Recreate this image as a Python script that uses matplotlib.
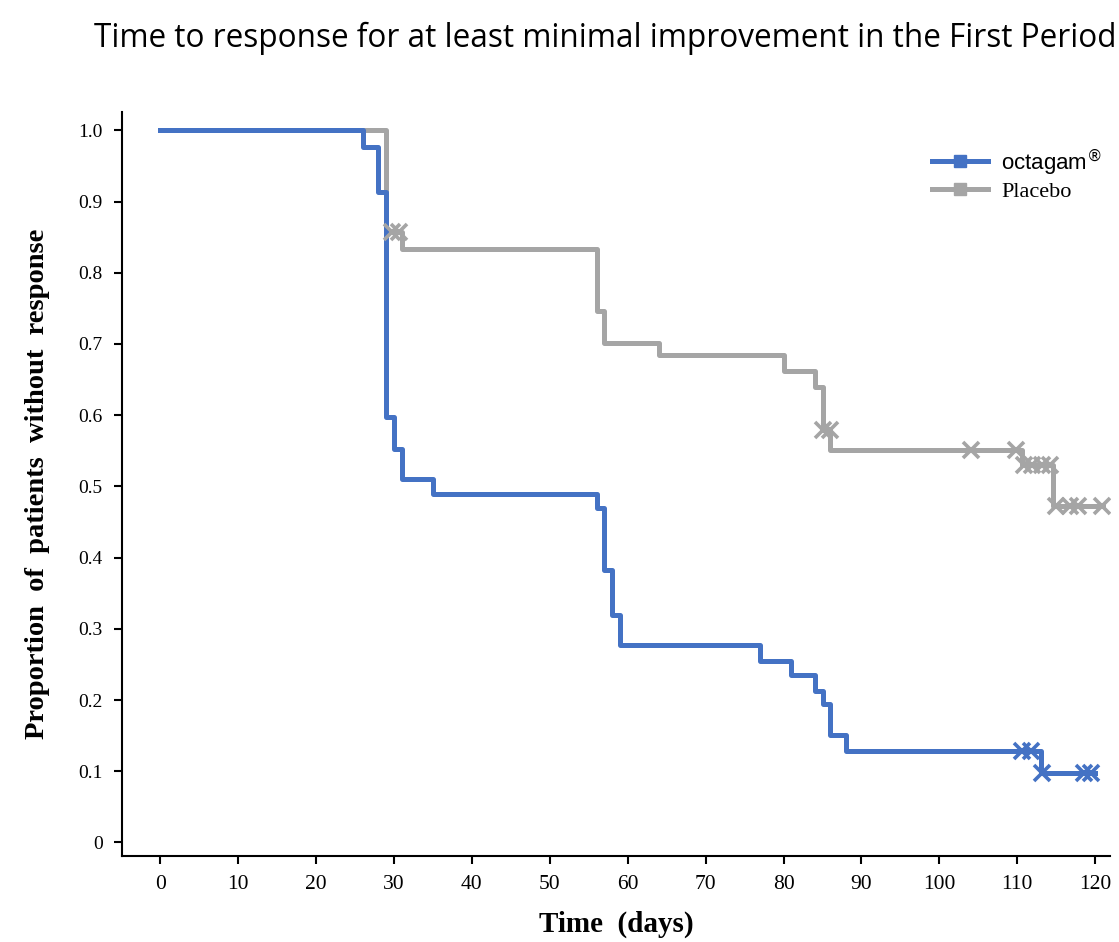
import matplotlib
matplotlib.use("Agg")
from matplotlib import pyplot as plt
from matplotlib.lines import Line2D

# octagam (Kaplan-Meier)
oct_temps = [0, 26, 28, 29, 30, 31, 35, 56, 57, 58, 59, 77, 81, 84, 85, 86, 88, 113]
oct_surv = [1.0, 0.976, 0.913, 0.598, 0.553, 0.510, 0.490, 0.470, 0.383, 0.320,
            0.277, 0.255, 0.235, 0.213, 0.194, 0.151, 0.129, 0.098]
oct_fin = 120
oct_censures = [110.6, 111.8, 113.2, 118.6, 119.5]

# placebo
pla_temps = [0, 29, 31, 56, 57, 64, 80, 84, 85, 86, 110.6, 114.6]
pla_surv = [1.0, 0.857, 0.833, 0.746, 0.702, 0.684, 0.662, 0.639, 0.579, 0.551, 0.530, 0.472]
pla_fin = 121
pla_censures = [29.8, 30.6, 85.0, 85.9, 104.0, 109.8, 110.8, 111.9, 113.2, 114.2,
                114.9, 116.8, 117.8, 120.9]

x_ticks = list(range(0, 121, 10))
y_ticks = [0, 0.1, 0.2, 0.3, 0.4, 0.5, 0.6, 0.7, 0.8, 0.9, 1.0]
y_labels = ["0", "0.1", "0.2", "0.3", "0.4", "0.5", "0.6", "0.7", "0.8", "0.9", "1.0"]

bleu = "#4472C4"
gris = "#A5A5A5"


def valeurA(temps, surv, t):
    v = surv[0]
    for i in range(len(temps)):
        if temps[i] <= t:
            v = surv[i]
    return v


def courbe(ax, temps, surv, fin, censures, couleur):
    xs = temps + [fin]
    ys = surv + [surv[-1]]
    ax.step(xs, ys, where="post", color=couleur, lw=3.6, zorder=3)
    cy = [valeurA(temps, surv, c) for c in censures]
    ax.plot(censures, cy, ls="none", marker="x", ms=11, mew=2.6, color=couleur, zorder=4)


fig = plt.figure(figsize=(11.19, 9.42), dpi=100)
ax = fig.add_axes([0.109, 0.0913, 0.883, 0.79])

courbe(ax, pla_temps, pla_surv, pla_fin, pla_censures, gris)
courbe(ax, oct_temps, oct_surv, oct_fin, oct_censures, bleu)

ax.set_xlim(-4.9, 121.9)
ax.set_ylim(-0.019, 1.026)
ax.set_xticks(x_ticks)
ax.set_yticks(y_ticks)
ax.set_yticklabels(y_labels)
for s in ["top", "right"]:
    ax.spines[s].set_visible(False)
for s in ["left", "bottom"]:
    ax.spines[s].set_linewidth(1.5)
ax.tick_params(direction="out", length=6, width=1.5, pad=8)
for lab in ax.get_xticklabels():
    lab.set_fontfamily("Liberation Serif")
    lab.set_fontsize(15.5)
for lab in ax.get_yticklabels():
    lab.set_fontfamily("Liberation Serif")
    lab.set_fontsize(14)

ax.set_xlabel("Time  (days)", family="Liberation Serif", fontweight="bold", fontsize=21, labelpad=12)
ax.set_ylabel("Proportion  of  patients  without  response", family="Liberation Serif",
              fontweight="bold", fontsize=20.5, labelpad=20)

poignees = [Line2D([], [], color=bleu, lw=3.6, marker="s", ms=9),
            Line2D([], [], color=gris, lw=3.6, marker="s", ms=9)]
leg = ax.legend(poignees, [r"octagam$^{\circledR}$", "Placebo"], loc="upper right",
                bbox_to_anchor=(1.012, 0.98), frameon=False, fontsize=16,
                handlelength=2.5, handletextpad=0.6, labelspacing=0.15)
leg.get_texts()[0].set_fontfamily("Liberation Sans")
leg.get_texts()[1].set_fontfamily("Liberation Serif")

fig.text(0.541, 1 - 38 / 942, "Time to response for at least minimal improvement in the First Period",
         ha="center", va="center", fontsize=22.7, family="Open Sans")

fig.savefig("out.png", dpi=100)
